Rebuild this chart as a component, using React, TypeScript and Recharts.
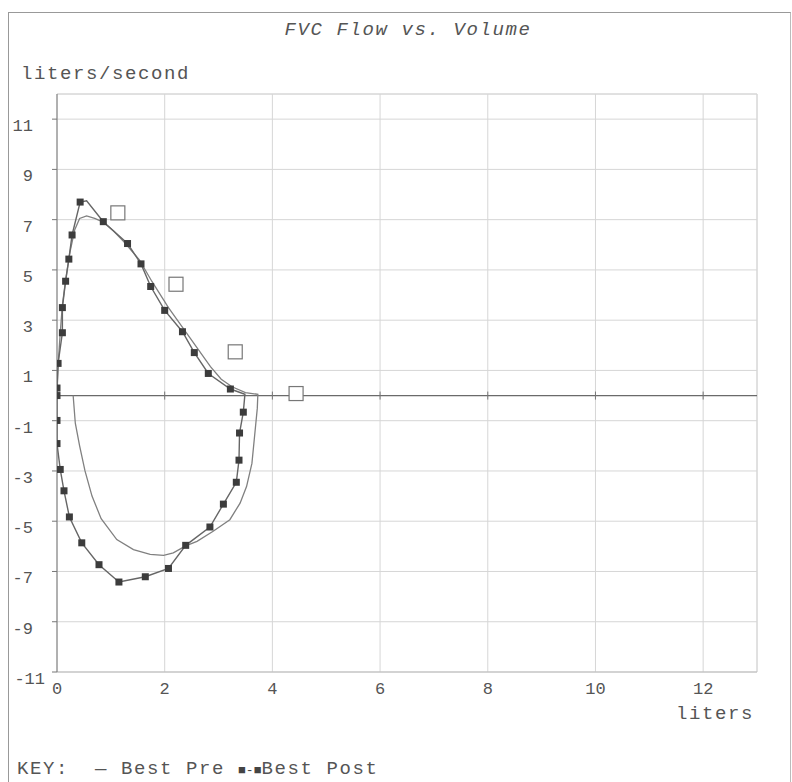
import React from "react";
import {
  ComposedChart,
  Scatter,
  XAxis,
  YAxis,
  CartesianGrid,
  ReferenceLine,
} from "recharts";

// ---- data (volume in liters, flow in liters/second) ----
const xTicks = [0, 2, 4, 6, 8, 10, 12];
const yTicks = [-11, -9, -7, -5, -3, -1, 1, 3, 5, 7, 9, 11];

const bestPre = [
  { v: 0, f: 0 }, { v: 0.02, f: 1.2 }, { v: 0.06, f: 2.5 }, { v: 0.1, f: 3.6 },
  { v: 0.16, f: 4.6 }, { v: 0.24, f: 5.7 }, { v: 0.33, f: 6.6 }, { v: 0.42, f: 7.05 },
  { v: 0.55, f: 7.15 }, { v: 0.7, f: 7.05 }, { v: 0.86, f: 6.9 }, { v: 1.05, f: 6.55 },
  { v: 1.23, f: 6.15 }, { v: 1.53, f: 5.4 }, { v: 1.76, f: 4.55 }, { v: 2.07, f: 3.5 },
  { v: 2.47, f: 2.3 }, { v: 2.85, f: 1.15 }, { v: 3.05, f: 0.65 }, { v: 3.25, f: 0.35 },
  { v: 3.5, f: 0.12 }, { v: 3.73, f: 0.05 }, { v: 3.72, f: -0.5 }, { v: 3.68, f: -1.38 },
  { v: 3.62, f: -2.7 }, { v: 3.52, f: -3.62 }, { v: 3.4, f: -4.28 }, { v: 3.21, f: -4.94 },
  { v: 2.9, f: -5.4 }, { v: 2.6, f: -5.8 }, { v: 2.39, f: -5.98 }, { v: 2.16, f: -6.26 },
  { v: 1.98, f: -6.36 }, { v: 1.73, f: -6.32 }, { v: 1.42, f: -6.13 }, { v: 1.11, f: -5.73 },
  { v: 0.82, f: -4.9 }, { v: 0.65, f: -4.0 }, { v: 0.52, f: -3.0 }, { v: 0.42, f: -2.0 },
  { v: 0.34, f: -1.1 }, { v: 0.3, f: 0 },
];

const bestPostLine = [
  { v: 0, f: 0 }, { v: 0, f: 0.3 }, { v: 0.02, f: 1.28 }, { v: 0.1, f: 2.5 },
  { v: 0.1, f: 3.5 }, { v: 0.16, f: 4.55 }, { v: 0.22, f: 5.43 }, { v: 0.28, f: 6.39 },
  { v: 0.43, f: 7.7 }, { v: 0.55, f: 7.75 }, { v: 0.86, f: 6.92 }, { v: 1.31, f: 6.05 },
  { v: 1.56, f: 5.24 }, { v: 1.74, f: 4.34 }, { v: 2.0, f: 3.39 }, { v: 2.33, f: 2.54 },
  { v: 2.55, f: 1.71 }, { v: 2.81, f: 0.88 }, { v: 3.22, f: 0.26 }, { v: 3.49, f: 0.05 },
  { v: 3.46, f: -0.66 }, { v: 3.39, f: -1.49 }, { v: 3.38, f: -2.57 }, { v: 3.33, f: -3.45 },
  { v: 3.09, f: -4.32 }, { v: 2.84, f: -5.23 }, { v: 2.39, f: -5.96 }, { v: 2.07, f: -6.88 },
  { v: 1.64, f: -7.21 }, { v: 1.15, f: -7.42 }, { v: 0.78, f: -6.73 }, { v: 0.46, f: -5.86 },
  { v: 0.23, f: -4.83 }, { v: 0.13, f: -3.79 }, { v: 0.06, f: -2.94 }, { v: 0, f: -1.91 },
  { v: 0, f: -0.99 }, { v: 0, f: 0 },
];

const bestPostMarkers = [
  { v: 0, f: 0 }, { v: 0, f: 0.3 }, { v: 0.02, f: 1.28 }, { v: 0.1, f: 2.5 },
  { v: 0.1, f: 3.5 }, { v: 0.16, f: 4.55 }, { v: 0.22, f: 5.43 }, { v: 0.28, f: 6.39 },
  { v: 0.43, f: 7.7 }, { v: 0.86, f: 6.92 }, { v: 1.31, f: 6.05 }, { v: 1.56, f: 5.24 },
  { v: 1.74, f: 4.34 }, { v: 2.0, f: 3.39 }, { v: 2.33, f: 2.54 }, { v: 2.55, f: 1.71 },
  { v: 2.81, f: 0.88 }, { v: 3.22, f: 0.26 }, { v: 3.46, f: -0.66 }, { v: 3.39, f: -1.49 },
  { v: 3.38, f: -2.57 }, { v: 3.33, f: -3.45 }, { v: 3.09, f: -4.32 }, { v: 2.84, f: -5.23 },
  { v: 2.39, f: -5.96 }, { v: 2.07, f: -6.88 }, { v: 1.64, f: -7.21 }, { v: 1.15, f: -7.42 },
  { v: 0.78, f: -6.73 }, { v: 0.46, f: -5.86 }, { v: 0.23, f: -4.83 }, { v: 0.13, f: -3.79 },
  { v: 0.06, f: -2.94 }, { v: 0, f: -1.91 }, { v: 0, f: -0.99 },
];

const predicted = [
  { v: 1.13, f: 7.27 }, { v: 2.21, f: 4.43 }, { v: 3.31, f: 1.74 }, { v: 4.44, f: 0.08 },
];

const zeroAxisTicks = [
  { v: 2, f: 0 }, { v: 4, f: 0 }, { v: 6, f: 0 }, { v: 8, f: 0 }, { v: 10, f: 0 }, { v: 12, f: 0 },
];

const FONT = "'Liberation Mono', 'DejaVu Sans Mono', monospace";
const TEXT = "#555";

const YTick = (props: any) => {
  const { y, payload } = props;
  const isMin = payload.value === -11;
  return (
    <text
      x={isMin ? 45 : 33}
      y={y + 12}
      textAnchor="end"
      fontFamily={FONT}
      fontSize={17}
      fill={TEXT}
    >
      {payload.value}
    </text>
  );
};

const XTick = (props: any) => {
  const { x, y, payload } = props;
  return (
    <text
      x={x}
      y={y + 14}
      textAnchor="middle"
      fontFamily={FONT}
      fontSize={17}
      fill={TEXT}
    >
      {payload.value}
    </text>
  );
};

const FilledSquare = (props: any) => {
  const { cx, cy } = props;
  if (cx == null || cy == null) return <g />;
  return <rect x={cx - 3.5} y={cy - 3.5} width={7} height={7} fill="#3c3c3c" />;
};

const OpenSquare = (props: any) => {
  const { cx, cy } = props;
  if (cx == null || cy == null) return <g />;
  return (
    <rect x={cx - 7} y={cy - 7} width={14} height={14} fill="#fff" stroke="#777" strokeWidth={1.2} />
  );
};

const Hidden = () => <g />;

const AxisTickMark = (props: any) => {
  const { cx, cy } = props;
  if (cx == null || cy == null) return <g />;
  return <line x1={cx} x2={cx} y1={cy - 4} y2={cy + 4} stroke="#777" strokeWidth={1} />;
};

export default function App() {
  return (
    <div
      style={{
        position: "absolute",
        left: 0,
        top: 0,
        width: 792,
        height: 782,
        background: "#fff",
        overflow: "hidden",
      }}
    >
      {/* page frame */}
      <div
        style={{
          position: "absolute",
          left: 8,
          top: 12,
          width: 781,
          height: 790,
          borderLeft: "1px solid #999",
          borderTop: "1px solid #999",
          borderRight: "1px solid #bbb",
        }}
      />
      <div
        style={{
          position: "absolute",
          left: 0,
          top: 19,
          width: 816,
          textAlign: "center",
          fontFamily: FONT,
          fontStyle: "italic",
          fontSize: 19,
          letterSpacing: 1.6,
          color: TEXT,
        }}
      >
        FVC Flow vs. Volume
      </div>
      <div
        style={{
          position: "absolute",
          left: 21,
          top: 63,
          fontFamily: FONT,
          fontSize: 19,
          letterSpacing: 1.6,
          color: TEXT,
        }}
      >
        liters/second
      </div>
      <div
        style={{
          position: "absolute",
          left: 676,
          top: 703,
          fontFamily: FONT,
          fontSize: 19,
          letterSpacing: 1.6,
          color: TEXT,
        }}
      >
        liters
      </div>
      <div
        style={{
          position: "absolute",
          left: 17,
          top: 758,
          fontFamily: FONT,
          fontSize: 19,
          letterSpacing: 1.6,
          color: TEXT,
          whiteSpace: "pre",
        }}
      >
        KEY:  — Best Pre <span style={{ fontSize: 13, letterSpacing: 0, color: "#444" }}>■-■</span>Best Post
      </div>
      <div style={{ position: "absolute", left: 0, top: 0 }}>
        <ComposedChart
          width={792}
          height={782}
          margin={{ top: 94, right: 35, bottom: 70, left: 7 }}
        >
          <CartesianGrid stroke="#d6d6d6" strokeWidth={1} />
          <XAxis
            type="number"
            dataKey="v"
            domain={[0, 13]}
            ticks={xTicks}
            allowDataOverflow
            height={40}
            axisLine={{ stroke: "#bbb" }}
            tickLine={false}
            tick={<XTick />}
          />
          <YAxis
            type="number"
            dataKey="f"
            domain={[-11, 12]}
            ticks={yTicks}
            allowDataOverflow
            width={50}
            axisLine={{ stroke: "#777" }}
            tickLine={{ stroke: "#777" }}
            tickSize={5}
            tick={<YTick />}
          />
          <ReferenceLine y={12} stroke="#d6d6d6" />
          <ReferenceLine x={13} stroke="#d6d6d6" />
          <ReferenceLine y={0} stroke="#6a6a6a" strokeWidth={1.3} />
          <Scatter
            data={zeroAxisTicks}
            shape={<AxisTickMark />}
            isAnimationActive={false}
          />
          <Scatter
            data={bestPre}
            line={{ stroke: "#808080", strokeWidth: 1.3 }}
            lineType="joint"
            shape={<Hidden />}
            isAnimationActive={false}
          />
          <Scatter
            data={bestPostLine}
            line={{ stroke: "#666", strokeWidth: 1.4 }}
            lineType="joint"
            shape={<Hidden />}
            isAnimationActive={false}
          />
          <Scatter data={bestPostMarkers} shape={<FilledSquare />} isAnimationActive={false} />
          <Scatter data={predicted} shape={<OpenSquare />} isAnimationActive={false} />
        </ComposedChart>
      </div>
    </div>
  );
}
